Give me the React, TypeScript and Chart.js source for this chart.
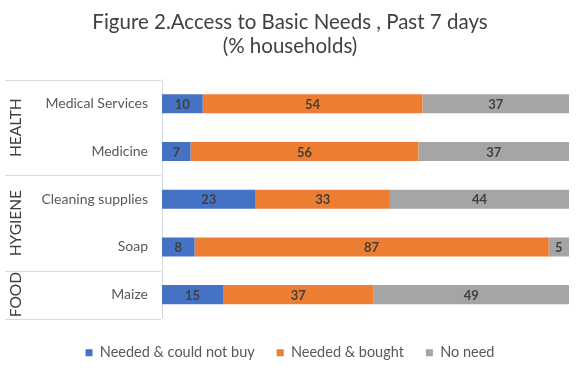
import React, { useEffect, useRef } from "react";
import { Chart, registerables } from "chart.js";

Chart.register(...registerables);

const categories = ["Medical Services", "Medicine", "Cleaning supplies", "Soap", "Maize"];
const couldNotBuy = [10, 7, 23, 8, 15];
const bought = [54, 56, 33, 87, 37];
const noNeed = [37, 37, 44, 5, 49];
const seriesNames = ["Needed & could not buy", "Needed & bought", "No need"];
const groups = [
  { name: "HEALTH", from: 0, to: 1 },
  { name: "HYGIENE", from: 2, to: 3 },
  { name: "FOOD", from: 4, to: 4 },
];
const titleLines = ["Figure 2.Access to Basic Needs , Past 7 days", "(% households)"];

const FONT = "Lato, 'Open Sans', sans-serif";
const LINE = "#d9d9d9";

const decorPlugin = {
  id: "decor",
  afterDatasetsDraw(chart: any) {
    const ctx = chart.ctx;
    ctx.save();
    ctx.font = `bold 13px ${FONT}`;
    ctx.fillStyle = "#404040";
    ctx.textAlign = "center";
    ctx.textBaseline = "middle";
    chart.data.datasets.forEach((ds: any, di: number) => {
      const meta = chart.getDatasetMeta(di);
      meta.data.forEach((el: any, i: number) => {
        const v = ds.data[i];
        const right = Math.min(el.x, chart.chartArea.right);
        const cx = (right + el.base) / 2;
        ctx.fillText(String(v), cx, el.y + 1);
      });
    });
    ctx.restore();
  },
  afterDraw(chart: any) {
    const ctx = chart.ctx;
    const area = chart.chartArea;
    const left = 5;
    const axisX = area.left;
    ctx.save();
    ctx.strokeStyle = LINE;
    ctx.lineWidth = 1;
    const band = (area.bottom - area.top) / categories.length;
    const bounds: number[] = [area.top];
    groups.forEach((g) => bounds.push(area.top + band * (g.to + 1)));
    bounds.forEach((b) => {
      ctx.beginPath();
      ctx.moveTo(left, Math.round(b) + 0.5);
      ctx.lineTo(axisX - 1, Math.round(b) + 0.5);
      ctx.stroke();
    });
    ctx.fillStyle = "#404040";
    ctx.font = `15.5px ${FONT}`;
    ctx.textAlign = "center";
    ctx.textBaseline = "middle";
    groups.forEach((g) => {
      const top = area.top + band * g.from;
      const bot = area.top + band * (g.to + 1);
      ctx.save();
      ctx.translate(16, (top + bot) / 2);
      ctx.rotate(-Math.PI / 2);
      ctx.fillText(g.name, 0, 0);
      ctx.restore();
    });
    ctx.restore();
  },
};

export default function App() {
  const ref = useRef<HTMLCanvasElement | null>(null);
  useEffect(() => {
    if (!ref.current) return;
    const chart = new Chart(ref.current, {
      type: "bar",
      data: {
        labels: categories,
        datasets: [
          { label: seriesNames[0], data: couldNotBuy, backgroundColor: "#4472C4", clip: 0 },
          { label: seriesNames[1], data: bought, backgroundColor: "#ED7D31", clip: 0 },
          { label: seriesNames[2], data: noNeed, backgroundColor: "#A5A5A5", clip: 0 },
        ] as any,
      },
      options: {
        indexAxis: "y",
        animation: false,
        responsive: false,
        maintainAspectRatio: false,
        datasets: { bar: { barPercentage: 0.4, categoryPercentage: 1 } },
        layout: { padding: { left: 11, right: 11, top: 0, bottom: 0 } },
        scales: {
          x: {
            stacked: true,
            min: 0,
            max: 100,
            display: true,
            grid: { display: false, drawTicks: false },
            border: { display: false },
            ticks: { display: false },
            afterFit: (s: any) => {
              s.height = 5;
            },
          },
          y: {
            stacked: true,
            grid: { display: false, drawTicks: false },
            border: { display: true, color: LINE, width: 1 },
            ticks: {
              color: "#595959",
              font: { family: FONT, size: 14 },
              padding: 14,
            },
            afterFit: (s: any) => {
              s.width = 151;
            },
          },
        },
        plugins: {
          title: {
            display: true,
            text: titleLines,
            color: "#404040",
            font: { family: FONT, size: 20.5, weight: "normal", lineHeight: 1.17 },
            padding: { top: 10, bottom: 22 },
          },
          legend: {
            display: true,
            position: "bottom",
            labels: {
              boxWidth: 7,
              boxHeight: 7,
              color: "#595959",
              font: { family: FONT, size: 14.5 },
              padding: 22,
            },
          },
          tooltip: { enabled: false },
        },
      },
      plugins: [decorPlugin],
    });
    return () => chart.destroy();
  }, []);
  return (
    <div style={{ position: "fixed", left: 0, top: 0, width: 580, height: 370, background: "#fff" }}>
      <canvas ref={ref} width={580} height={370} style={{ width: 580, height: 370 }} />
    </div>
  );
}
